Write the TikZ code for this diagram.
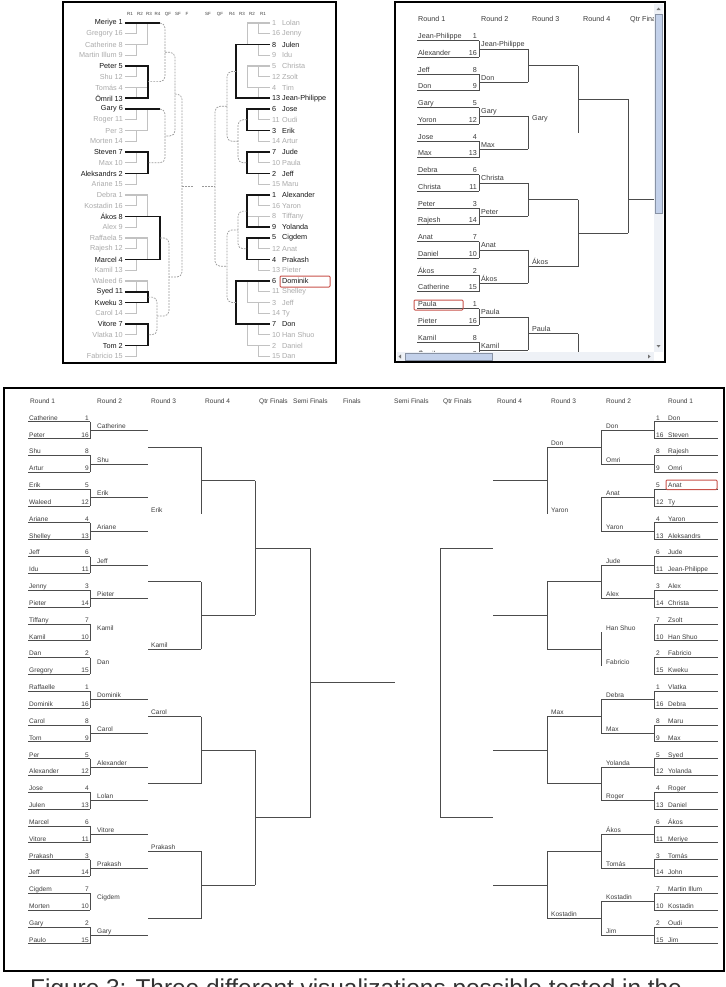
\documentclass[tikz,border=0pt]{standalone}
\usepackage{fontspec}
\setmainfont{Liberation Sans}

\definecolor{dimtext}{HTML}{ABABAB}
\definecolor{boldtext}{HTML}{151515}
\definecolor{treegray}{HTML}{C2C2C2}
\definecolor{arcgray}{HTML}{999999}
\definecolor{celltext}{HTML}{3C3C3C}
\definecolor{cellrule}{HTML}{4C4C4C}
\definecolor{pickred}{HTML}{C8524A}
\definecolor{barback}{HTML}{EEF1F6}
\definecolor{barthumb}{HTML}{C3D1EA}

\tikzset{
  panel/.style={draw=black, line width=1.5pt},
  treehead/.style={font=\fontsize{4.5}{5}\selectfont, text=celltext, inner sep=0pt},
  dimname/.style={font=\fontsize{7.3}{8}\selectfont, text=dimtext, inner sep=0pt},
  boldname/.style={font=\fontsize{7.3}{8}\selectfont, text=boldtext, inner sep=0pt},
  treeline/.style={draw=treegray, line width=1.1pt},
  pathline/.style={draw=boldtext, line width=1.6pt},
  arcline/.style={draw=arcgray, line width=0.7pt, dash pattern=on 1.8pt off 1.2pt, rounded corners=5pt},
  cellB/.style={font=\fontsize{7.2}{8}\selectfont, text=celltext, inner sep=0pt},
  cellC/.style={font=\fontsize{6.6}{7}\selectfont, text=celltext, inner sep=0pt},
  bracketline/.style={draw=cellrule, line width=0.75pt},
  pick/.style={draw=pickred, line width=1pt, rounded corners=1pt},
}

\begin{document}
\begin{tikzpicture}[x=1bp, y=-1bp,
  declare function={ya(\n)=23+10.75*\n; yb(\n)=36+16.75*\n; yc(\n)=418+16.84*\n;}]
\useasboundingbox (0,0) rectangle (726,987);
\fill[white] (0,0) rectangle (726,987);

% ---------------- tree view
\draw[panel] (63,2) rectangle (336,363);
\foreach \lab/\xx in {R1/130,R2/140,R3/149,R4/157.5,QF/168,SF/178,F/187,SF/208,QF/220,R4/232,R3/242,R2/252,R1/263}
  \node[treehead] at (\xx,14) {\lab};
% left players
\foreach \nm/\sd/\st [count=\i from 0] in {Meriye/1/boldname, Gregory/16/dimname, Catherine/8/dimname, Martin Illum/9/dimname,
    Peter/5/boldname, Shu/12/dimname, Tomás/4/dimname, Ömril/13/boldname, Gary/6/boldname, Roger/11/dimname, Per/3/dimname,
    Morten/14/dimname, Steven/7/boldname, Max/10/dimname, Aleksandrs/2/boldname, Ariane/15/dimname, Debra/1/dimname,
    Kostadin/16/dimname, Ákos/8/boldname, Alex/9/dimname, Raffaela/5/dimname, Rajesh/12/dimname, Marcel/4/boldname,
    Kamil/13/dimname, Waleed/6/dimname, Syed/11/boldname, Kweku/3/boldname, Carol/14/dimname, Vitore/7/boldname,
    Vlatka/10/dimname, Tom/2/boldname, Fabricio/15/dimname}
  \node[\st, anchor=east] (al\i) at (123,{ya(\i)}) {\nm\ \sd};
% right players
\foreach \nm/\sd/\st [count=\i from 0] in {Lolan/1/dimname, Jenny/16/dimname, Julen/8/boldname, Idu/9/dimname,
    Christa/5/dimname, Zsolt/12/dimname, Tim/4/dimname, Jean-Philippe/13/boldname, Jose/6/boldname, Oudi/11/dimname,
    Erik/3/boldname, Artur/14/dimname, Jude/7/boldname, Paula/10/dimname, Jeff/2/boldname, Maru/15/dimname,
    Alexander/1/boldname, Yaron/16/dimname, Tiffany/8/dimname, Yolanda/9/boldname, Cigdem/5/boldname, Anat/12/dimname,
    Prakash/4/boldname, Pieter/13/dimname, Dominik/6/boldname, Shelley/11/dimname, Jeff/3/dimname, Ty/14/dimname,
    Don/7/boldname, Han Shuo/10/dimname, Daniel/2/dimname, Dan/15/dimname}
  \node[\st, anchor=west] (ar\i) at (272,{ya(\i)}) {\makebox[10pt][l]{\sd}\nm};
% first rounds, grey
\foreach \g [evaluate=\g as \a using int(4*\g), evaluate=\g as \b using int(4*\g+1),
             evaluate=\g as \c using int(4*\g+2), evaluate=\g as \d using int(4*\g+3)] in {0,...,7}{
  \draw[treeline] ([xshift=2]al\a.east) -- ([xshift=25]al\a.east);
  \draw[treeline] ([xshift=2]al\b.east) -| ([xshift=14]al\a.east);
  \draw[treeline] ([xshift=2]al\c.east) -| ([xshift=25]al\a.east);
  \draw[treeline] ([xshift=2]al\d.east) -| ([xshift=14]al\c.east);
  \draw[treeline] ([xshift=-2]ar\a.west) -- ([xshift=-25]ar\a.west);
  \draw[treeline] ([xshift=-2]ar\b.west) -| ([xshift=-14]ar\a.west);
  \draw[treeline] ([xshift=-2]ar\c.west) -| ([xshift=-25]ar\a.west);
  \draw[treeline] ([xshift=-2]ar\d.west) -| ([xshift=-14]ar\c.west);
}
% left path, black
\draw[pathline] ([xshift=2]al0.east) -- ([xshift=37]al0.east);
\draw[pathline] ([xshift=2]al4.east) -| ([xshift=25]al7.east) -- ([xshift=2]al7.east);
\draw[pathline] ([xshift=2]al8.east) -- ([xshift=37]al8.east);
\draw[pathline] ([xshift=2]al12.east) -| ([xshift=25]al14.east) -- ([xshift=2]al14.east);
\draw[pathline] ([xshift=2]al18.east) -| ([xshift=37]al22.east) -- ([xshift=2]al22.east);
\draw[pathline] ([xshift=2]al25.east) -| ([xshift=25]al26.east) -- ([xshift=2]al26.east);
\draw[pathline] ([xshift=2]al28.east) -| ([xshift=25]al30.east) -- ([xshift=2]al30.east);
% right path, black
\draw[pathline] ([xshift=-2]ar2.west) -| ([xshift=-36]ar7.west) -- ([xshift=-2]ar7.west);
\draw[pathline] ([xshift=-2]ar8.west) -| ([xshift=-25]ar10.west) -- ([xshift=-2]ar10.west);
\draw[pathline] ([xshift=-2]ar12.west) -| ([xshift=-25]ar14.west) -- ([xshift=-2]ar14.west);
\draw[pathline] ([xshift=-2]ar16.west) -| ([xshift=-25]ar19.west) -- ([xshift=-2]ar19.west);
\draw[pathline] ([xshift=-2]ar20.west) -| ([xshift=-25]ar22.west) -- ([xshift=-2]ar22.west);
\draw[pathline] ([xshift=-2]ar24.west) -| ([xshift=-36]ar28.west) -- ([xshift=-2]ar28.west);
% later rounds, dashed
\draw[arcline] (160,{ya(0)}) -- (165,{ya(0)}) -- (165,81.6) -- (148,81.6);
\draw[arcline] (160,{ya(8)}) -- (165,{ya(8)}) -- (165,162.8) -- (148,162.8);
\draw[arcline] (165,52.3) -- (175,52.3) -- (175,135.9) -- (165,135.9);
\draw[arcline] (148,297.1) -- (157,297.1) -- (157,334.8) -- (148,334.8);
\draw[arcline] (160,238) -- (169,238) -- (169,316) -- (157,316);
\draw[arcline] (175,94.1) -- (182,94.1) -- (182,277) -- (169,277);
\draw[arcline] (247,119.8) -- (238,119.8) -- (238,162.8) -- (247,162.8);
\draw[arcline] (236,71.4) -- (227,71.4) -- (227,141.3) -- (238,141.3);
\draw[arcline] (247,211.1) -- (238,211.1) -- (238,248.8) -- (247,248.8);
\draw[arcline] (236,302.5) -- (227,302.5) -- (227,229.9) -- (238,229.9);
\draw[arcline] (227,106.3) -- (215,106.3) -- (215,266.2) -- (227,266.2);
\draw[arcline] (182,186) -- (193,186);
\draw[arcline] (202,186) -- (215,186);
\draw[pick] (280,276) rectangle (330,287);

% ---------------- spreadsheet view
\begin{scope}
  \clip (397,4) rectangle (654,352);
  \foreach \lab/\xx in {Round 1/418,Round 2/481,Round 3/532,Round 4/583,Qtr Finals/630}
    \node[cellB, anchor=base west] at (\xx,21.5) {\lab};
  \foreach \nm/\sd [count=\i from 0] in {Jean-Philippe/1, Alexander/16, Jeff/8, Don/9, Gary/5, Yoron/12, Jose/4, Max/13,
      Debra/6, Christa/11, Peter/3, Rajesh/14, Anat/7, Daniel/10, Ákos/2, Catherine/15, Paula/1, Pieter/16, Kamil/8, Ömril/9}{
    \node[cellB, anchor=base west] (b\i) at (418,{yb(\i)+2.5}) {\nm};
    \node[cellB, anchor=base east] (bs\i) at (477,{yb(\i)+2.5}) {\sd};
    \draw[bracketline] (417,{yb(\i)+4.5}) -- (479,{yb(\i)+4.5});
  }
  \foreach \k in {0,...,9}
    \draw[bracketline] (479,{yb(2*\k)+4.5}) -- (479,{yb(2*\k+1)+4.5});
  \foreach \lab [count=\k from 0] in {Jean-Philippe,Don,Gary,Max,Christa,Peter,Anat,Ákos,Paula,Kamil}{
    \draw[bracketline] (479,{yb(2*\k)+12.875}) -- (528,{yb(2*\k)+12.875});
    \node[cellB, anchor=base west] (bb\k) at (481,{yb(2*\k)+10.9}) {\lab};
  }
  \foreach \m in {0,...,4}
    \draw[bracketline] (528,{yb(4*\m)+12.875}) -- (528,{yb(4*\m+2)+12.875});
  \foreach \m in {0,2,3,4}
    \draw[bracketline] (528,{yb(4*\m)+29.625}) -- (578,{yb(4*\m)+29.625});
  \node[cellB, anchor=base west] (bc1) at (532,120.5) {Gary};
  \node[cellB, anchor=base west] (bc3) at (532,{yb(12)+27.6}) {Ákos};
  \node[cellB, anchor=base west] (bc4) at (532,{yb(16)+27.6}) {Paula};
  \foreach \m in {0,2,4}
    \draw[bracketline] (578,{yb(4*\m)+29.625}) -- (578,{yb(4*\m+4)+29.625});
  \foreach \n in {0,1,2}
    \draw[bracketline] (578,{yb(8*\n)+63.125}) -- (628,{yb(8*\n)+63.125});
  \draw[bracketline] (628,{yb(0)+63.125}) -- (628,{yb(8)+63.125});
  \draw[bracketline] (628,{yb(16)+63.125}) -- (628,{yb(24)+63.125});
  \draw[bracketline] (628,{yb(4)+96.6}) -- (660,{yb(4)+96.6});
\end{scope}
\draw[pick] (414,300) rectangle (463,310);
% scroll bars
\fill[barback] (654,4) rectangle (663,352);
\filldraw[fill=barthumb, draw=barthumb!70!black, line width=0.3pt] (655,14) rectangle (662,213);
\fill[black!55] (656.5,10) -- (660.5,10) -- (658.5,7.5) -- cycle;
\fill[black!55] (656.5,345) -- (660.5,345) -- (658.5,347.5) -- cycle;
\fill[barback] (397,352) rectangle (654,361);
\filldraw[fill=barthumb, draw=barthumb!70!black, line width=0.3pt] (405,353) rectangle (492,360);
\fill[black!55] (401,354.5) -- (401,358.5) -- (398.5,356.5) -- cycle;
\fill[black!55] (648,354.5) -- (648,358.5) -- (650.5,356.5) -- cycle;
\draw[panel] (395,2) rectangle (665,362);

% ---------------- full bracket
\draw[panel] (4,388) rectangle (724,971);
\foreach \lab/\xx in {Round 1/30,Round 2/97,Round 3/151,Round 4/205,Qtr Finals/259,Semi Finals/293,Finals/343,
    Semi Finals/394,Qtr Finals/443,Round 4/497,Round 3/551,Round 2/606,Round 1/668}
  \node[cellC, anchor=base west] at (\xx,403.5) {\lab};
% left half
\foreach \nm/\sd [count=\i from 0] in {Catherine/1, Peter/16, Shu/8, Artur/9, Erik/5, Waleed/12, Ariane/4, Shelley/13,
    Jeff/6, Idu/11, Jenny/3, Pieter/14, Tiffany/7, Kamil/10, Dan/2, Gregory/15, Raffaelle/1, Dominik/16, Carol/8, Tom/9,
    Per/5, Alexander/12, Jose/4, Julen/13, Marcel/6, Vitore/11, Prakash/3, Jeff/14, Cigdem/7, Morten/10, Gary/2, Paulo/15}{
  \node[cellC, anchor=base west] (lr1-\i) at (29,{yc(\i)+2.2}) {\nm};
  \node[cellC, anchor=base east] (ls1-\i) at (89,{yc(\i)+2.2}) {\sd};
  \draw[bracketline] (28,{yc(\i)+3.8}) -- (90,{yc(\i)+3.8});
}
\foreach \k in {0,...,15}
  \draw[bracketline] (90,{yc(2*\k)+3.8}) -- (90,{yc(2*\k+1)+3.8});
\foreach \lab/\fl [count=\k from 0] in {Catherine/1, Shu/1, Erik/1, Ariane/1, Jeff/1, Pieter/1, Kamil/0, Dan/0,
    Dominik/1, Carol/1, Alexander/1, Lolan/1, Vitore/1, Prakash/1, Cigdem/0, Gary/1}{
  \pgfmathsetmacro\yy{yc(2*\k)+12.22}
  \ifnum\fl=1 \draw[bracketline] (90,\yy) -- (148,\yy); \fi
  \node[cellC, anchor=base west] (lr2-\k) at (97,\yy-1.8) {\lab};
}
\foreach \lab/\fl [count=\m from 0] in {{}/1, Erik/0, {}/1, Kamil/1, Carol/1, {}/1, Prakash/1, {}/1}{
  \pgfmathsetmacro\yy{yc(4*\m)+29.06}
  \ifnum\fl=1 \draw[bracketline] (148,\yy) -- (201,\yy); \fi
  \node[cellC, anchor=base west] (lr3-\m) at (151,\yy-1.8) {\lab};
}
\foreach \m in {0,2,4,6}
  \draw[bracketline] (201,{yc(4*\m)+29.06}) -- (201,{yc(4*\m+4)+29.06});
\foreach \n in {0,...,3}
  \draw[bracketline] (201,{yc(8*\n)+62.74}) -- (255,{yc(8*\n)+62.74});
\foreach \n in {0,2}
  \draw[bracketline] (255,{yc(8*\n)+62.74}) -- (255,{yc(8*\n+8)+62.74});
\foreach \q in {0,1}
  \draw[bracketline] (255,{yc(16*\q)+130.1}) -- (310,{yc(16*\q)+130.1});
\draw[bracketline] (310,{yc(0)+130.1}) -- (310,{yc(16)+130.1});
\draw[bracketline] (310,682.8) -- (395,682.8);
% right half
\foreach \nm/\sd [count=\i from 0] in {Don/1, Steven/16, Rajesh/8, Omri/9, Anat/5, Ty/12, Yaron/4, Aleksandrs/13,
    Jude/6, Jean-Philippe/11, Alex/3, Christa/14, Zsolt/7, Han Shuo/10, Fabricio/2, Kweku/15, Vlatka/1, Debra/16, Maru/8,
    Max/9, Syed/5, Yolanda/12, Roger/4, Daniel/13, Ákos/6, Meriye/11, Tomás/3, John/14, Martin Illum/7, Kostadin/10,
    Oudi/2, Jim/15}{
  \node[cellC, anchor=base west] (rr1-\i) at (668,{yc(\i)+2.2}) {\nm};
  \node[cellC, anchor=base west] (rs1-\i) at (656,{yc(\i)+2.2}) {\sd};
  \draw[bracketline] (654,{yc(\i)+3.8}) -- (718,{yc(\i)+3.8});
}
\foreach \k in {0,...,15}
  \draw[bracketline] (654,{yc(2*\k)+3.8}) -- (654,{yc(2*\k+1)+3.8});
\foreach \lab/\fl [count=\k from 0] in {Don/1, Omri/1, Anat/1, Yaron/1, Jude/1, Alex/1, Han Shuo/0, Fabricio/0,
    Debra/1, Max/1, Yolanda/1, Roger/1, Ákos/1, Tomás/1, Kostadin/1, Jim/1}{
  \pgfmathsetmacro\yy{yc(2*\k)+12.22}
  \ifnum\fl=1 \draw[bracketline] (601,\yy) -- (654,\yy); \fi
  \node[cellC, anchor=base west] (rr2-\k) at (606,\yy-1.8) {\lab};
}
\foreach \m in {0,...,7}
  \draw[bracketline] (601,{yc(4*\m)+12.22}) -- (601,{yc(4*\m+2)+12.22});
\foreach \lab/\fl [count=\m from 0] in {Don/1, Yaron/0, {}/1, {}/1, Max/1, {}/1, {}/1, Kostadin/1}{
  \pgfmathsetmacro\yy{yc(4*\m)+29.06}
  \ifnum\fl=1 \draw[bracketline] (547,\yy) -- (601,\yy); \fi
  \node[cellC, anchor=base west] (rr3-\m) at (551,\yy-1.8) {\lab};
}
\foreach \m in {0,2,4,6}
  \draw[bracketline] (547,{yc(4*\m)+29.06}) -- (547,{yc(4*\m+4)+29.06});
\foreach \n in {0,...,3}
  \draw[bracketline] (493,{yc(8*\n)+62.74}) -- (547,{yc(8*\n)+62.74});
\foreach \q in {0,1}
  \draw[bracketline] (440,{yc(16*\q)+130.1}) -- (493,{yc(16*\q)+130.1});
\draw[bracketline] (440,{yc(0)+130.1}) -- (440,{yc(16)+130.1});
\draw[pick] (666,480) rectangle (717,489.5);

% ---------------- caption
\begin{scope}
  \clip (0,0) rectangle (726,987);
  \node[anchor=north west, inner sep=0pt, font=\fontsize{24.5}{27}\selectfont, text=black!80] (caption) at (30,979)
    {Figure 3: Three different visualizations possible tested in the};
\end{scope}
\end{tikzpicture}
\end{document}
